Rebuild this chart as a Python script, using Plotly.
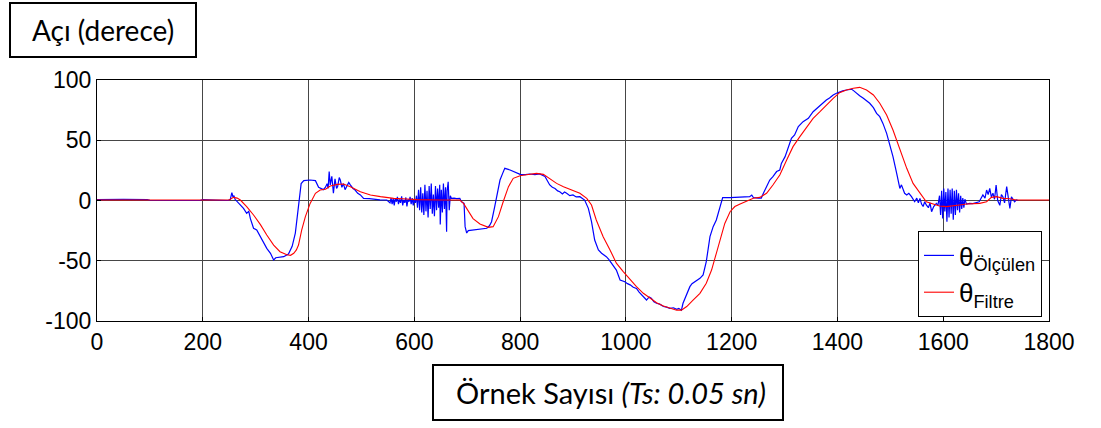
import plotly.graph_objects as go

# ---------------- data ----------------
olculen_x = [0, 20, 50, 95, 100, 150, 195, 200, 240, 248, 252, 255, 257, 259, 261, 265, 271, 277, 283, 287,
             290, 293, 296, 302, 305, 309, 315, 321, 328, 334, 338, 343, 353, 362, 369, 375, 378, 381, 386, 391,
             403, 413, 419, 428, 432, 435, 437, 439, 441, 444, 447, 450, 453, 455, 458, 460, 463, 466, 469, 472,
             476, 479, 484, 488, 493, 498, 504, 515, 523, 535, 548,
             554, 556, 558, 560, 562, 564, 566, 568, 570, 572, 574, 576, 578, 580, 582, 584, 586, 588, 590, 592,
             594, 596, 598, 600, 602, 604,
             606, 608, 610, 612, 614, 616, 618, 620, 622, 624, 626, 628, 630, 632, 634, 636, 638, 640, 642, 644,
             646, 648, 649, 651, 653, 655, 657, 659, 661, 662, 664, 666, 668,
             670, 675, 680, 686, 689, 694, 696, 699, 702, 710, 718, 728, 737, 742, 746, 752, 757, 762, 767, 771,
             781, 793, 800, 810, 818, 828, 837, 847, 852, 856, 861, 866, 871, 875, 880, 884, 888, 894, 900, 906,
             913, 918, 922, 929, 935, 941, 948, 954, 963, 968, 973, 978, 982, 989, 998, 1003, 1008, 1014, 1020, 1025,
             1030, 1035, 1039, 1044, 1048, 1053, 1058, 1064, 1071, 1077, 1083, 1090, 1096, 1100, 1105, 1108, 1115,
             1121, 1125, 1130, 1135, 1140, 1146, 1152, 1159, 1165, 1171, 1178, 1183, 1197, 1203, 1215, 1225, 1234,
             1238, 1241, 1250, 1256, 1260, 1266, 1272, 1278, 1285, 1291, 1294, 1301, 1307, 1313, 1319, 1326, 1335,
             1345, 1354, 1360, 1367, 1373, 1379, 1385, 1392, 1398, 1404, 1410, 1417, 1422, 1427, 1431, 1436, 1442,
             1449, 1455, 1461, 1468, 1474, 1480, 1486, 1493, 1499, 1505, 1512, 1518, 1521, 1524, 1527, 1531, 1535,
             1540, 1543, 1546, 1550, 1553, 1556, 1559, 1562, 1565, 1568, 1572, 1575, 1578, 1582, 1587, 1590,
             1593, 1595, 1597, 1599, 1601, 1603, 1605, 1607, 1609, 1611, 1613, 1615, 1617, 1619, 1621, 1623, 1625,
             1627, 1629, 1631, 1633, 1635, 1637, 1639, 1641, 1644,
             1650, 1656, 1662, 1668, 1675, 1679, 1682, 1685, 1688, 1691, 1694, 1697, 1700, 1703, 1707, 1710, 1713,
             1716, 1720, 1723, 1726, 1729, 1732, 1735, 1738, 1742]
olculen_y = [0.8, 0.6, 0.9, 0.8, 0.2, 0, 0, 0.8, 0.6, 0, 1, 6.5, 3, 4, 1, -1, -4, -6.5, -10.6, -9,
             -15, -19, -23, -24.5, -27, -31, -35.5, -39.7, -43.8, -49.4, -47.5, -47, -46.6, -44.4, -38, -27, -16, -2, 14, 16.5,
             17, 16.5, 11, 9, 11, 14, 10, 24, 13, 20, 6, 18, 10, 11.5, 19, 17, 11, 14, 9, 11.5,
             15, 13, 10, 8.7, 6, 4.6, 1.8, 1.5, 1, 0.5, 0.4,
             -2, 2, -3, 1.5, -4, 2, -1, 3, -3, 1, -2, 3.5, -4, 0.5, -2, 2.5, -5, 1, -1, 3,
             -3, 2, -4, 1, -2, 4,
             -6, 9, -8, 11, -10, 6, -12, 13, -9, 8, -14, 12, -7, 14, -11, 5, -13, 12, -8, 10,
             -6, 13, -20, 9, -10, 14, -7, 11, -26, 8, 15.6, -8, 4,
             1.8, 2, 1.5, 1.8, -1, -2.4, -21.7, -27, -25, -24.5, -24.5, -23.5, -23, -21, -17.6, -5, 7.3, 17, 22.5, 26.7,
             25.3, 23, 21.7, 21.5, 22, 21.5, 22, 20, 16, 12.9, 11, 10, 8, 7.3, 5.5, 7, 6, 4, 4.6, 3,
             3.2, 2, 0.4, -6.5, -17.6, -32.8, -41, -43.8, -46.6, -49, -52, -55, -57.7, -66, -67.4, -69, -70, -72, -73, -76,
             -78.4, -80, -82.6, -80, -81, -84, -85.3, -86, -88, -88.5, -89.5, -89, -90.3, -89.5, -91, -85.3, -77,
             -71.5, -69, -67.4, -66, -64.6, -61.8, -50.7, -30, -21.7, -16.2, -5, 2.4, 2.4, 2.6, 2.8, 3, 3.2,
             4.5, 2.5, 2, 2, 6, 11.5, 17, 19.8, 24, 25.3, 30.8, 36.4, 44.7, 51.6, 54.4, 61.3, 65.4,
             68.2, 73.7, 76, 79.3, 81, 83.4, 85, 87.6, 89, 90.3, 91, 91.7, 92, 92.3, 91, 89, 87,
             84.8, 83, 80.7, 77, 72.3, 69.6, 64, 55.7, 46, 36.4, 22.5, 10, 13, 8.7, 6, 4.6, 6,
             3.2, 1, -1, 2, -2, 1.8, -3, -5, -1, -3.7, -6, -2, -9.3, -5, -2.4, -4,
             4, -12, 8, -15, 10, -9, 7, -17.6, 10, -14, 9, -11, 10, -16, 8, -12, 9,
             -8, 6, -10, 4, -7, 2, -6, 1, -3,
             -2.4, -2.6, -2, -1, 4.6, 2, 8.7, 5, 10, 3, 6, 1, 12.9, 0, -4, 5, 3,
             -2, 11.5, 0, -6.5, 3, 1, -1, 0.4, 0]

filtre_x = [0, 100, 200, 250, 258, 265, 271, 283, 296, 309, 321, 334, 346, 359, 366, 372, 377, 381, 387, 394,
            403, 413, 422, 432, 441, 454, 466, 479, 498, 517, 536, 561, 586, 605, 650, 686, 693, 702, 711, 724,
            740, 749, 754, 759, 768, 778, 787, 800, 812, 831, 844, 856, 869, 882, 894, 913, 926, 935, 944, 957,
            970, 982, 995, 1008, 1020, 1033, 1045, 1058, 1071, 1083, 1096, 1105, 1115, 1127, 1140, 1152, 1162,
            1171, 1178, 1187, 1197, 1206, 1216, 1228, 1241, 1253, 1266, 1278, 1291, 1304, 1316, 1329, 1341, 1354,
            1367, 1379, 1392, 1404, 1417, 1430, 1442, 1455, 1468, 1480, 1493, 1505, 1518, 1531, 1543, 1556, 1568,
            1581, 1593, 1606, 1619, 1631, 1644, 1656, 1669, 1682, 1691, 1701, 1713, 1726, 1738, 1800]
filtre_y = [0.4, 0.4, 0.4, 0.4, 2.6, 2, 0.4, -5, -12, -20, -28.6, -37, -42.5, -45, -45.5, -43.8, -41, -37, -24.5, -13.4,
            -2.4, 6, 8.7, 9.3, 12, 13.4, 13.7, 11.5, 7.3, 4.6, 3.2, 1.8, 1.2, 0.7, 0.4, 0.4, -2.4, -9.3, -15, -19.5,
            -22.3, -21.7, -18, -13.4, -1, 11.5, 18.4, 20.6, 21.4, 22.5, 21.7, 18.4, 14.2, 11.5, 9.3, 6, 1.8, -3.7, -16.2, -30,
            -41, -52, -59, -66, -71.5, -77, -81, -84.8, -87.5, -89.5, -91, -91, -88, -82.6, -77, -68.7, -57.7,
            -43.8, -33, -19, -9.3, -5, -2.9, -0.4, 1.8, 2.6, 6, 12.9, 21.2, 33.6, 44.7, 53, 60, 68.2,
            73.7, 79.3, 84.8, 89.5, 91.7, 93.1, 93.9, 91.7, 87.6, 80.7, 71, 58.5, 42, 26.7, 14.2, 6, -1,
            -2.9, -4.6, -5.1, -4.6, -3.7, -2.9, -2.9, -2.4, -1, 2.6, 3.2, 1.8, 1.5, 0.4, 0.4]

x_ticks = [0, 200, 400, 600, 800, 1000, 1200, 1400, 1600, 1800]
y_ticks = [-100, -50, 0, 50, 100]

# ---------------- figure ----------------
W, H = 1101, 428
L, R, T, B = 97, 1049, 80, 321
pw, ph = R - L, B - T


def px(x):
    return (x - L) / pw


def py(y):
    return (B - y) / ph


fig = go.Figure()
fig.add_trace(go.Scatter(x=olculen_x, y=olculen_y, mode="lines",
                         line=dict(color="rgb(0,0,255)", width=1.2),
                         name="θ<sub>Ölçülen</sub>"))
fig.add_trace(go.Scatter(x=filtre_x, y=filtre_y, mode="lines",
                         line=dict(color="rgb(255,0,0)", width=1.1),
                         name="θ<sub>Filtre</sub>"))

axis_common = dict(showgrid=True, gridcolor="rgb(70,70,70)", gridwidth=1,
                   showline=True, linecolor="black", linewidth=1, mirror=True,
                   zeroline=False, ticks="inside", ticklen=4, tickcolor="black",
                   tickfont=dict(family="Liberation Sans, Arial", size=23, color="black"))

fig.update_xaxes(range=[0, 1800], tickvals=x_ticks, ticktext=[str(v) for v in x_ticks], **axis_common)
fig.update_yaxes(range=[-100, 100], tickvals=y_ticks, ticktext=[str(v) for v in y_ticks], **axis_common)

fig.update_layout(
    width=W, height=H,
    margin=dict(l=L, r=W - R, t=T, b=H - B, pad=0),
    paper_bgcolor="white", plot_bgcolor="white",
    showlegend=True,
    legend=dict(x=px(1042), y=py(317), xanchor="right", yanchor="bottom",
                bgcolor="white", bordercolor="black", borderwidth=1,
                font=dict(family="Liberation Sans, Arial", size=26, color="black"),
                tracegroupgap=0),
    shapes=[
        dict(type="rect", xref="paper", yref="paper", x0=px(10), x1=px(196), y0=py(57), y1=py(3),
             line=dict(color="black", width=2), fillcolor="white", layer="above"),
        dict(type="rect", xref="paper", yref="paper", x0=px(433), x1=px(783), y0=py(420), y1=py(365),
             line=dict(color="black", width=2), fillcolor="white", layer="above"),
    ],
    annotations=[
        dict(text="Açı (derece)", xref="paper", yref="paper", x=px(103), y=py(30),
             xanchor="center", yanchor="middle", showarrow=False,
             font=dict(family="Lato, Open Sans, sans-serif", size=28, color="black")),
        dict(text="Örnek Sayısı <i>(Ts: 0.05 sn)</i>", xref="paper", yref="paper", x=px(611), y=py(392),
             xanchor="center", yanchor="middle", showarrow=False,
             font=dict(family="Lato, Open Sans, sans-serif", size=29, color="black")),
    ],
)

fig.write_html("out.html", config={"displayModeBar": False},
               post_script="document.body.style.margin='0';document.body.style.padding='0';"
                           "document.documentElement.style.overflow='hidden';")
